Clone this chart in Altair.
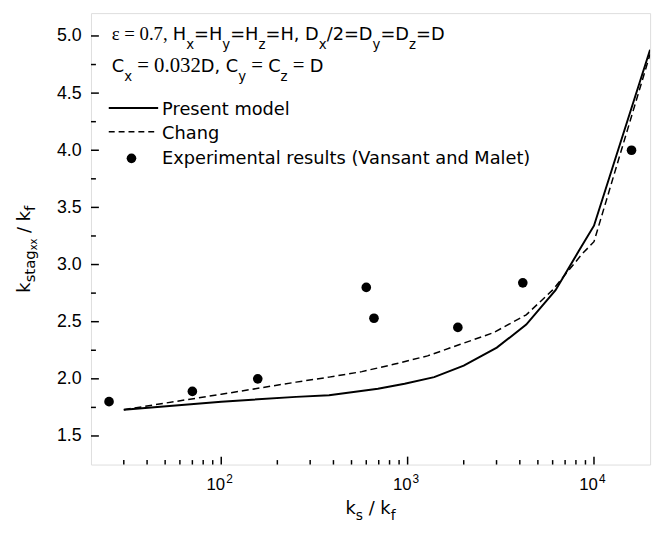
import math
import altair as alt
import pandas as pd

# ---------------- data ----------------
present_x = [30, 100, 252, 379, 693, 964, 1388, 2000, 3010, 4330, 6220, 8300, 10000, 20000]
present_y = [1.73, 1.80, 1.842, 1.856, 1.914, 1.957, 2.015, 2.115, 2.273, 2.474, 2.776, 3.12, 3.34, 4.88]

chang_x = [30, 100, 252, 379, 568, 853, 1280, 1920, 2880, 4330, 5990, 8630, 10000, 20000]
chang_y = [1.73, 1.865, 1.971, 2.015, 2.063, 2.129, 2.201, 2.302, 2.403, 2.56, 2.776, 3.092, 3.20, 4.84]

exp_x = [25, 70, 157, 600, 660, 1860, 4150, 15900]
exp_y = [1.80, 1.89, 2.00, 2.80, 2.53, 2.45, 2.84, 4.00]

x_major = [100, 1000, 10000]
x_minor = [30, 40, 50, 60, 70, 80, 90,
           200, 300, 400, 500, 600, 700, 800, 900,
           2000, 3000, 4000, 5000, 6000, 7000, 8000, 9000]
y_major = [1.5, 2.0, 2.5, 3.0, 3.5, 4.0, 4.5, 5.0]
y_minor = [1.75, 2.25, 2.75, 3.25, 3.75, 4.25, 4.75]

legend_labels = ["Present model", "Chang", "Experimental results (Vansant and Malet)"]

header1 = [("ε = 0.7, ", "serif"), ("H", "n"), ("x", "sub"), ("=H", "n"), ("y", "sub"),
           ("=H", "n"), ("z", "sub"), ("=H, D", "n"), ("x", "sub"), ("/2=D", "n"),
           ("y", "sub"), ("=D", "n"), ("z", "sub"), ("=D", "n")]
header2 = [("C", "n"), ("x", "sub"), (" = 0.032", "serif2"), ("D, C", "n"), ("y", "sub"),
           (" = ", "serif2"), ("C", "n"), ("z", "sub"), (" = ", "serif2"), ("D", "n")]
x_title = [("k", "tn"), ("s", "tsub"), (" / k", "tn"), ("f", "tsub")]
y_title = [("k", "rn"), ("stag", "rsub"), ("xx", "rsubsub"), (" / k", "rn"), ("f", "rsub")]

# ---------------- text layout helpers (font metrics) ----------------
DEJAVU = {' ': .318, '(': .390, ')': .390, ',': .318, '.': .318, '/': .337, '=': .838,
          'C': .698, 'D': .770, 'E': .632, 'H': .752, 'M': .863, 'P': .603, 'V': .684,
          'a': .613, 'd': .635, 'e': .615, 'f': .352, 'g': .635, 'i': .278, 'k': .579,
          'l': .278, 'm': .974, 'n': .634, 'o': .612, 'p': .635, 'r': .411, 's': .521,
          't': .392, 'u': .634, 'x': .592, 'y': .592, 'z': .525}
SERIF = {' ': .25, ',': .25, '.': .25, '=': .564, 'ε': .44}

STYLES = {
    'n': ('sans', 'DejaVu Sans', 18, 0),
    'sub': ('sans', 'DejaVu Sans', 13.5, 9),
    'serif': ('serif', 'Liberation Serif', 19, 0),
    'serif2': ('serif', 'Liberation Serif', 21, 0),
    'tn': ('sans', 'DejaVu Sans', 18, 0),
    'tsub': ('sans', 'DejaVu Sans', 14, 6),
    'rn': ('sans', 'DejaVu Sans', 18, 0),
    'rsub': ('sans', 'DejaVu Sans', 15, 5),
    'rsubsub': ('sans', 'DejaVu Sans', 10, 7),
}


def text_width(s, fam, size):
    table = DEJAVU if fam == 'sans' else SERIF
    default = .636 if fam == 'sans' else .5
    return sum(table.get(c, default) for c in s) * size


def layout(segs, x0, y0, rotate=False):
    rows = []
    pos = 0.0
    for txt, st in segs:
        fam, font, size, shift = STYLES[st]
        sp = text_width(' ', fam, size)
        core = txt.strip(' ')
        pos += (len(txt) - len(txt.lstrip(' '))) * sp
        if core:
            if rotate:
                rows.append(dict(text=core, px=x0 + shift, py=y0 - pos, style=st))
            else:
                rows.append(dict(text=core, px=x0 + pos, py=y0 + shift, style=st))
        pos += text_width(core, fam, size)
        pos += (len(txt) - len(txt.rstrip(' '))) * sp
    return rows


xt_width = sum(text_width(t, 'sans', STYLES[s][2]) for t, s in x_title)
rows = []
rows += layout(header1, 21, 27.3)
rows += layout(header2, 21, 60)
rows += layout(x_title, 283 - xt_width / 2, 507)
rows += layout(y_title, -62, 283, rotate=True)
text_df = pd.DataFrame(rows)

# ---------------- scales ----------------
xs = alt.Scale(type='log', domain=[20, 20000], nice=False)
ys = alt.Scale(domain=[1.25, 5.2], nice=False, zero=False)
yaxis = alt.Axis(values=y_major, format='.1f', labelFont='Liberation Sans', labelFontSize=18,
                 labelColor='black', ticks=False, tickSize=0, domain=False, grid=False,
                 labelPadding=10, title=None)

pres_df = pd.DataFrame({'x': present_x, 'y': present_y})
chang_df = pd.DataFrame({'x': chang_x, 'y': chang_y})
exp_df = pd.DataFrame({'x': exp_x, 'y': exp_y})

present = alt.Chart(pres_df).mark_line(color='black', strokeWidth=2, clip=True).encode(
    x=alt.X('x:Q', scale=xs, axis=None), y=alt.Y('y:Q', scale=ys, axis=yaxis))
chang = alt.Chart(chang_df).mark_line(color='black', strokeWidth=1.5, strokeDash=[7, 4], clip=True).encode(
    x=alt.X('x:Q', scale=xs, axis=None), y=alt.Y('y:Q', scale=ys, axis=yaxis))
points = alt.Chart(exp_df).mark_point(filled=True, color='black', size=95, opacity=1).encode(
    x=alt.X('x:Q', scale=xs, axis=None), y=alt.Y('y:Q', scale=ys, axis=yaxis))

# ticks (inside)
xmaj_df = pd.DataFrame({'v': x_major, 'base': ['10'] * len(x_major),
                        'exp': [str(round(math.log10(v))) for v in x_major]})
xmin_df = pd.DataFrame({'v': x_minor})
ymaj_df = pd.DataFrame({'v': y_major})
ymin_df = pd.DataFrame({'v': y_minor})

xmaj_ticks = alt.Chart(xmaj_df).mark_rule(color='black', strokeWidth=1.5).encode(
    x=alt.X('v:Q', scale=xs, axis=None), y=alt.value(457), y2=alt.value(449))
xmin_ticks = alt.Chart(xmin_df).mark_rule(color='black', strokeWidth=1.5).encode(
    x=alt.X('v:Q', scale=xs, axis=None), y=alt.value(457), y2=alt.value(452.5))
ymaj_ticks = alt.Chart(ymaj_df).mark_rule(color='black', strokeWidth=1.5).encode(
    y=alt.Y('v:Q', scale=ys, axis=yaxis), x=alt.value(0), x2=alt.value(8))
ymin_ticks = alt.Chart(ymin_df).mark_rule(color='black', strokeWidth=1.5).encode(
    y=alt.Y('v:Q', scale=ys, axis=yaxis), x=alt.value(0), x2=alt.value(5))

xlab_base = alt.Chart(xmaj_df).mark_text(align='right', baseline='alphabetic', font='Liberation Sans',
                                         fontSize=17, dx=4, color='black').encode(
    x=alt.X('v:Q', scale=xs, axis=None), y=alt.value(483), text='base:N')
xlab_exp = alt.Chart(xmaj_df).mark_text(align='left', baseline='alphabetic', font='Liberation Sans',
                                        fontSize=12, dx=5, color='black').encode(
    x=alt.X('v:Q', scale=xs, axis=None), y=alt.value(476), text='exp:N')

# legend
leg_df = pd.DataFrame({'label': legend_labels, 'tx': [72, 72, 72], 'ty': [102.7, 127, 153],
                       'lx1': [18, 18, 41], 'lx2': [68, 68, 41], 'ly': [96, 120, 147],
                       'kind': ['solid', 'dash', 'dot']})
leg_solid = alt.Chart(leg_df).transform_filter(alt.datum.kind == 'solid').mark_rule(
    color='black', strokeWidth=2).encode(
    x=alt.X('lx1:Q', scale=None, axis=None), x2='lx2:Q', y=alt.Y('ly:Q', scale=None, axis=None))
leg_dash = alt.Chart(leg_df).transform_filter(alt.datum.kind == 'dash').mark_rule(
    color='black', strokeWidth=1.5, strokeDash=[6, 4]).encode(
    x=alt.X('lx1:Q', scale=None, axis=None), x2='lx2:Q', y=alt.Y('ly:Q', scale=None, axis=None))
leg_dot = alt.Chart(leg_df).transform_filter(alt.datum.kind == 'dot').mark_point(
    filled=True, color='black', size=95, opacity=1).encode(
    x=alt.X('lx1:Q', scale=None, axis=None), y=alt.Y('ly:Q', scale=None, axis=None))
leg_text = alt.Chart(leg_df).mark_text(align='left', baseline='alphabetic', font='DejaVu Sans',
                                       fontSize=18, color='black').encode(
    x=alt.X('tx:Q', scale=None, axis=None), y=alt.Y('ty:Q', scale=None, axis=None), text='label:N')

# rich text layers
text_layers = []
for st, (fam, font, size, shift) in STYLES.items():
    text_layers.append(
        alt.Chart(text_df).transform_filter(alt.datum.style == st).mark_text(
            align='left', baseline='alphabetic', font=font, fontSize=size, color='black',
            angle=270 if st.startswith('r') else 0).encode(
            x=alt.X('px:Q', scale=None, axis=None), y=alt.Y('py:Q', scale=None, axis=None),
            text='text:N'))

chart = alt.layer(
    ymaj_ticks, ymin_ticks, xmaj_ticks, xmin_ticks, chang, present, points,
    xlab_base, xlab_exp, leg_solid, leg_dash, leg_dot, leg_text, *text_layers
).properties(
    width=566, height=457, autosize='none',
    padding={'left': 84, 'top': 2, 'right': 7, 'bottom': 55}
).configure_view(stroke='black', strokeWidth=2).configure(background='white')

chart.save("out.html", embed_options={"renderer": "svg", "actions": False})
